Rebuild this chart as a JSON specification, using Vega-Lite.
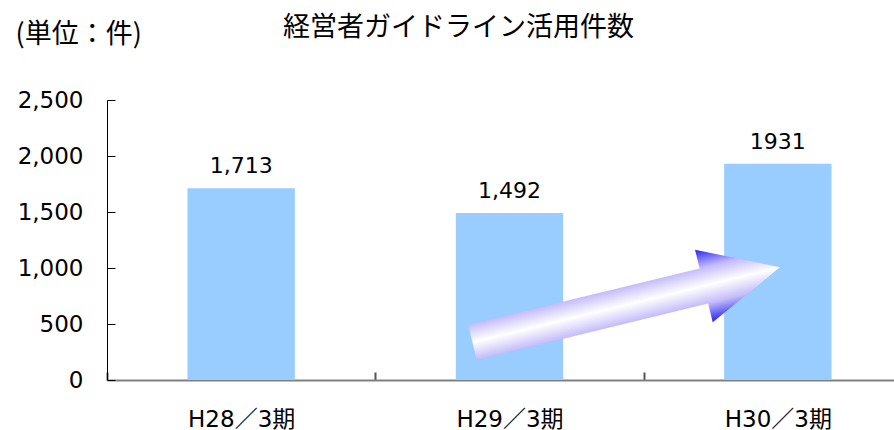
{
  "$schema": "https://vega.github.io/schema/vega-lite/v6.json",
  "autosize": {"type": "none"},
  "padding": {"left": 107, "top": 100, "right": 0, "bottom": 50},
  "width": 787,
  "height": 280,
  "background": "white",
  "config": {"view": {"stroke": null}},
  "datasets": {
    "bars": [
      {"cat": "H28／3期", "value": 1713, "label": "1,713"},
      {"cat": "H29／3期", "value": 1492, "label": "1,492"},
      {"cat": "H30／3期", "value": 1931, "label": "1931"}
    ],
    "arrow": [
      {"cat": "H29／3期", "value": 671}
    ]
  },
  "resolve": {"axis": {"x": "independent"}},
  "layer": [
    {
      "data": {"name": "bars"},
      "mark": {"type": "bar", "color": "#99CCFF", "width": {"band": 0.4}},
      "encoding": {
        "x": {
          "field": "cat", "type": "nominal", "sort": null,
          "scale": {"range": [0, 805], "paddingInner": 0, "paddingOuter": 0},
          "axis": {
            "title": null,
            "orient": "bottom",
            "tickBand": "extent",
            "tickSize": -8,
            "tickColor": "#555555",
            "tickWidth": 2,
            "domainColor": "#808080",
            "domainWidth": 2,
            "labelFont": "DejaVu Sans, Noto Sans CJK JP",
            "labelFontSize": 23,
            "labelColor": "#000000",
            "labelPadding": 36,
            "labelAngle": 0
          }
        },
        "y": {
          "field": "value", "type": "quantitative",
          "scale": {"domain": [0, 2500], "nice": false},
          "axis": {
            "values": [0, 500, 1000, 1500, 2000, 2500],
            "format": ",.0f",
            "grid": false,
            "tickSize": -8,
            "tickColor": "#000000",
            "domainColor": "#000000",
            "labelFont": "DejaVu Sans",
            "labelFontSize": 23,
            "labelColor": "#000000",
            "labelPadding": 32,
            "title": "(単位：件)",
            "titleFont": "Noto Sans CJK JP",
            "titleFontSize": 27,
            "titleFontWeight": "normal",
            "titleColor": "#000000",
            "titleAngle": 0,
            "titleAlign": "left",
            "titleBaseline": "alphabetic",
            "titleX": -92,
            "titleY": -58
          }
        }
      }
    },
    {
      "data": {"name": "bars"},
      "mark": {"type": "text", "font": "DejaVu Sans", "fontSize": 22, "color": "#000000", "baseline": "alphabetic", "dy": -15},
      "encoding": {
        "x": {"field": "cat", "type": "nominal", "sort": null, "axis": null},
        "y": {"field": "value", "type": "quantitative"},
        "text": {"field": "label"}
      }
    },
    {
      "data": {"name": "arrow"},
      "mark": {
        "type": "point",
        "filled": true,
        "shape": "M -1 -0.114 L 0.505 -0.114 L 0.505 -0.236 L 1 0 L 0.505 0.236 L 0.505 0.114 L -1 0.114 Z",
        "size": 100172,
        "angle": -13.7,
        "opacity": 1,
        "strokeWidth": 0,
        "fill": {
          "gradient": "linear",
          "x1": 0, "y1": 0, "x2": 0, "y2": 1,
          "stops": [
            {"offset": 0, "color": "#2424F0"},
            {"offset": 0.26, "color": "#C4BCFA"},
            {"offset": 0.5, "color": "#FFFFFF"},
            {"offset": 0.74, "color": "#C4BCFA"},
            {"offset": 1, "color": "#2424F0"}
          ]
        }
      },
      "encoding": {
        "x": {
          "field": "cat", "type": "nominal", "sort": null, "bandPosition": 0.935,
          "axis": {
            "orient": "top",
            "labels": false,
            "ticks": false,
            "domain": false,
            "title": "経営者ガイドライン活用件数",
            "titleFont": "Noto Sans CJK JP",
            "titleFontSize": 27,
            "titleFontWeight": "normal",
            "titleColor": "#000000",
            "titleAlign": "center",
            "titleBaseline": "alphabetic",
            "titleX": 351,
            "titleY": -65
          }
        },
        "y": {"field": "value", "type": "quantitative"}
      }
    }
  ]
}
